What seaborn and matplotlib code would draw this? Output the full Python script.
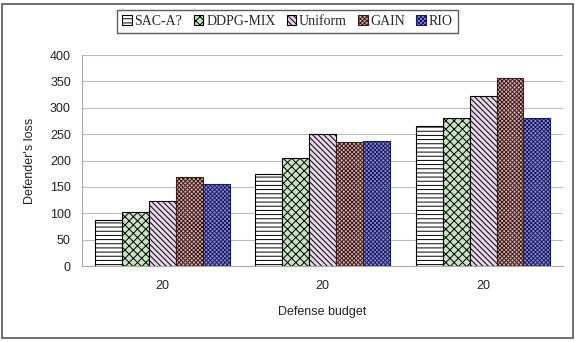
import pandas as pd
import matplotlib.pyplot as plt
import matplotlib.patches as mpatches
import seaborn as sns

# chart data
methods = ["SAC-A?", "DDPG-MIX", "Uniform", "GAIN", "RIO"]
groups = ["g1", "g2", "g3"]
budget_labels = ["20", "20", "20"]
sac_loss = [88, 175, 265]
ddpg_loss = [102, 205, 281]
uniform_loss = [124, 250, 323]
gain_loss = [168, 236, 356]
rio_loss = [155, 237, 281]

# bar styles (face colour, hatch, edge/hatch colour)
faces = ["#ffffff", "#c9e2c3", "#e6d6e8", "#d8b4b0", "#8f8fd8"]
hatches = ["----", "xxxx", "\\\\\\\\\\\\", "xxxxxxxx", "xxxxxxxx"]
edges = ["#000000", "#000000", "#000000", "#3a1a1a", "#1a1a60"]

sns.set_theme(style="white")
plt.rcParams['font.family'] = ['Liberation Sans', 'DejaVu Sans']
plt.rcParams['hatch.linewidth'] = 0.7

rows = []
for m, vals in zip(methods, [sac_loss, ddpg_loss, uniform_loss, gain_loss, rio_loss]):
    for g, v in zip(groups, vals):
        rows.append({"group": g, "method": m, "loss": v})
df = pd.DataFrame(rows)

fig = plt.figure(figsize=(5.75, 3.42), dpi=100)
ax = fig.add_axes([0.1426, 0.222, 0.837, 0.617])

sns.barplot(data=df, x="group", y="loss", hue="method", order=groups,
            hue_order=methods, width=0.84, gap=0, palette=faces,
            saturation=1, legend=False, ax=ax, zorder=3)

for cont, fc, h, ec in zip(ax.containers, faces, hatches, edges):
    for bar in cont:
        bar.set_facecolor(fc)
        bar.set_hatch(h)
        bar.set_edgecolor(ec)
        bar.set_linewidth(0.8)

ax.set_ylim(0, 400)
ax.set_yticks(range(0, 401, 50))
ax.set_xlim(-0.5, 2.5)
ax.set_xticks(range(len(groups)))
ax.set_xticklabels(budget_labels)
ax.set_xticks([-0.5, 0.5, 1.5, 2.5], minor=True)
ax.tick_params(axis='x', which='major', length=0, pad=10, labelsize=9, colors='#222222')
ax.tick_params(axis='x', which='minor', length=5, color='#aaaaaa', width=0.8)
ax.tick_params(axis='y', length=6, color='#aaaaaa', width=0.8, labelsize=9,
               labelcolor='#222222', pad=2)
ax.yaxis.grid(True, color='#bbbbbb', linewidth=0.8, zorder=0)
ax.set_axisbelow(True)

for s in ["top", "right"]:
    ax.spines[s].set_visible(False)
for s in ["left", "bottom"]:
    ax.spines[s].set_color('#aaaaaa')
    ax.spines[s].set_linewidth(0.8)

ax.set_ylabel("Defender's loss", fontsize=9, color='#222222', labelpad=10)
ax.set_xlabel("Defense budget", fontsize=9, color='#222222', labelpad=10)

handles = [mpatches.Patch(facecolor=fc, hatch=h, edgecolor=ec, linewidth=0.8)
           for fc, h, ec in zip(faces, hatches, edges)]
leg = fig.legend(handles, methods, loc='center', bbox_to_anchor=(0.5, 0.938),
                 ncol=5, frameon=True, fancybox=False, edgecolor='#333333',
                 handlelength=0.7, handleheight=0.7, handletextpad=0.2,
                 columnspacing=0.8, borderpad=0.35,
                 prop={'family': ['Liberation Serif', 'DejaVu Serif'], 'size': 10})
leg.get_frame().set_linewidth(1.0)

# outer border of the chart area
fig.patches.append(mpatches.Rectangle((0.004, 0.012), 0.992, 0.976,
                                      transform=fig.transFigure, fill=False,
                                      edgecolor='#555555', linewidth=1.2))

fig.savefig("out.png", dpi=100)
